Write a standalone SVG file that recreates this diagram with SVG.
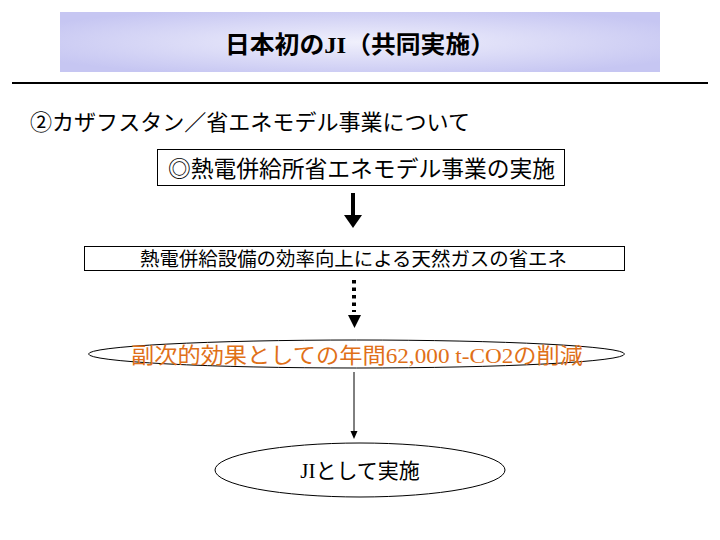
<svg xmlns="http://www.w3.org/2000/svg" width="720" height="540" viewBox="0 0 720 540">
<defs>
<radialGradient id="bg" cx="50%" cy="50%" r="60%">
<stop offset="0" stop-color="#f0f0fc"/>
<stop offset="1" stop-color="#c6c6f2"/>
</radialGradient>
</defs>
<style>
text{font-family:"Noto Sans CJK JP","Liberation Sans",sans-serif;fill:#000}
.box{fill:#fff;stroke:#000;stroke-width:1}
.ser{font-family:"Liberation Serif","Noto Serif CJK JP","Noto Sans CJK JP",serif}
</style>
<rect width="720" height="540" fill="#fff"/>
<g id="title">
<rect x="60" y="12" width="600" height="60" fill="url(#bg)"/>
<text x="225" y="53" font-size="24" font-weight="bold" textLength="270" lengthAdjust="spacingAndGlyphs">日本初の<tspan class="ser">JI</tspan>（共同実施）</text>
</g>
<line x1="12" y1="83" x2="708" y2="83" stroke="#000" stroke-width="2"/>
<g id="subtitle">
<text x="30" y="130" font-size="22" textLength="440" lengthAdjust="spacingAndGlyphs">②カザフスタン／省エネモデル事業について</text>
</g>
<g id="node1">
<rect class="box" x="157.5" y="149.5" width="407" height="36"/>
<text x="168" y="177" font-size="22.5" textLength="387" lengthAdjust="spacingAndGlyphs">◎熱電併給所省エネモデル事業の実施</text>
</g>
<g id="node2">
<rect class="box" x="84.5" y="246.5" width="540" height="24"/>
<text x="140" y="266" font-size="19" textLength="427" lengthAdjust="spacingAndGlyphs">熱電併給設備の効率向上による天然ガスの省エネ</text>
</g>
<g id="node3">
<ellipse cx="356.5" cy="354" rx="268" ry="14" fill="#fff" stroke="#000" stroke-width="1"/>
<text x="131" y="363" font-size="22" textLength="452" lengthAdjust="spacingAndGlyphs" style="fill:#e07018">副次的効果としての年間<tspan class="ser" style="fill:#e07018">62,000 t-CO2</tspan>の削減</text>
</g>
<g id="node4">
<ellipse cx="360" cy="470" rx="145" ry="27" fill="#fff" stroke="#000" stroke-width="1"/>
<text x="360" y="478" font-size="21" text-anchor="middle"><tspan class="ser">JI</tspan>として実施</text>
</g>
<g id="connectors">
<line x1="353" y1="193" x2="353" y2="216" stroke="#000" stroke-width="4"/>
<path d="M344,215 L362,215 L353,228 Z" fill="#000"/>
<line x1="354" y1="280" x2="354" y2="312" stroke="#000" stroke-width="4" stroke-dasharray="3.5,4"/>
<path d="M348,315 L361,315 L354.5,328 Z" fill="#000"/>
<line x1="354" y1="372" x2="354" y2="432" stroke="#000" stroke-width="1"/>
<path d="M350.5,431 L357.5,431 L354,439 Z" fill="#000"/>
</g>
</svg>
